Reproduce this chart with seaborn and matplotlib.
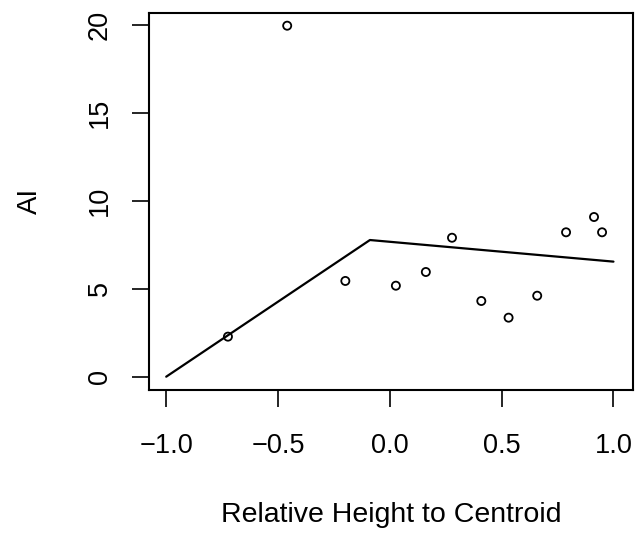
import matplotlib
matplotlib.use("Agg")
import matplotlib.pyplot as plt
import seaborn as sns
import pandas as pd

# Data
height = [-0.724, -0.459, -0.199, 0.027, 0.161, 0.278, 0.409, 0.531, 0.659, 0.788, 0.913, 0.949]
ai = [2.28, 19.98, 5.45, 5.18, 5.96, 7.91, 4.31, 3.36, 4.61, 8.22, 9.09, 8.22]
fit_x = [-1.0, -0.089, 1.0]
fit_y = [0.0, 7.78, 6.55]
x_ticks = [-1.0, -0.5, 0.0, 0.5, 1.0]
y_ticks = [0, 5, 10, 15, 20]

sns.set_theme(style="white")
plt.rcParams["font.family"] = ["Liberation Sans", "DejaVu Sans"]

pts = pd.DataFrame({"x": height, "y": ai})
fit = pd.DataFrame({"x": fit_x, "y": fit_y})

fig = plt.figure(figsize=(6.4, 5.38), dpi=100)
ax = fig.add_axes([0.2328, 0.2751, 0.7567, 0.7013])

sns.lineplot(data=fit, x="x", y="y", ax=ax, color="black", linewidth=1.6,
             sort=False, estimator=None)
sns.scatterplot(data=pts, x="x", y="y", ax=ax, marker="o", s=34,
                facecolor="none", edgecolor="black", linewidth=1.3)

ax.set_xlim(-1.077, 1.0886)
ax.set_ylim(-0.757, 20.72)
ax.set_xticks(x_ticks)
ax.set_xticklabels([f"{v:.1f}".replace("-", "\u2212") for v in x_ticks])
ax.set_yticks(y_ticks)
ax.set_yticklabels([str(v) for v in y_ticks], rotation=90, va="center")

ax.tick_params(axis="both", which="major", direction="out", length=12,
               width=1.2, color="black", labelsize=19.5, labelcolor="black",
               bottom=True, left=True)
ax.tick_params(axis="x", pad=19)
ax.tick_params(axis="y", pad=14)

for sp in ax.spines.values():
    sp.set_visible(True)
    sp.set_color("black")
    sp.set_linewidth(1.5)

ax.set_xlabel("Relative Height to Centroid", fontsize=20.5, color="black")
ax.set_ylabel("AI", fontsize=20, color="black")
ax.xaxis.set_label_coords(0.5, -0.331)
ax.xaxis.label.set_va("center")
ax.yaxis.set_label_coords(-0.246, 0.5)
ax.yaxis.label.set_va("center")

fig.savefig("out.png", dpi=100)
